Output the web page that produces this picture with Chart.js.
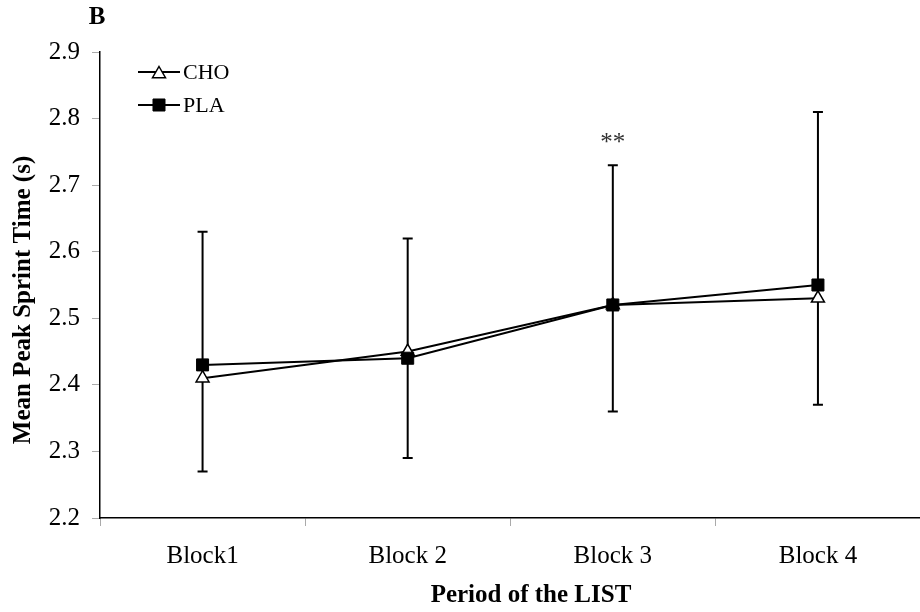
<!DOCTYPE html>
<html>
<head>
<meta charset="utf-8">
<script src="https://cdn.jsdelivr.net/npm/chart.js@4.4.0/dist/chart.umd.min.js"></script>
<style>
  body { margin: 0; background: #fff; }
  #wrap { width: 920px; height: 612px; overflow: hidden; }
</style>
</head>
<body>
<div id="wrap">
  <canvas id="sprintChart" width="930" height="612"></canvas>
</div>
<script>
const blocks = ['Block1', 'Block 2', 'Block 3', 'Block 4'];
const choValues = [2.41, 2.45, 2.52, 2.53];
const plaValues = [2.43, 2.44, 2.52, 2.55];
const errTop = [2.63, 2.62, 2.73, 2.81];
const errBottom = [2.27, 2.29, 2.36, 2.37];
const yTicks = [2.2, 2.3, 2.4, 2.5, 2.6, 2.7, 2.8, 2.9];
const starBlock = 2;   // index of the Block 3 category
const starValue = 2.75;

const serif = '"Liberation Serif", "Times New Roman", serif';

// error bars, drawn under the lines and markers
const errorBars = {
    id: 'errorBars',
    beforeDatasetsDraw(chart) {
        const ctx = chart.ctx;
        const x = chart.scales.x;
        const y = chart.scales.y;
        ctx.save();
        ctx.strokeStyle = '#000';
        ctx.lineWidth = 2;
        blocks.forEach((b, i) => {
            const px = x.getPixelForValue(i);
            const top = y.getPixelForValue(errTop[i]);
            const bot = y.getPixelForValue(errBottom[i]);
            ctx.beginPath();
            ctx.moveTo(px, top);
            ctx.lineTo(px, bot);
            ctx.moveTo(px - 5, top);
            ctx.lineTo(px + 5, top);
            ctx.moveTo(px - 5, bot);
            ctx.lineTo(px + 5, bot);
            ctx.stroke();
        });
        ctx.restore();
    }
};

// panel letter, asterisks, axis titles and the legend
const extras = {
    id: 'extras',
    afterDraw(chart) {
        const ctx = chart.ctx;
        const x = chart.scales.x;
        const y = chart.scales.y;
        ctx.save();
        ctx.fillStyle = '#000';

        ctx.font = 'bold 25px ' + serif;
        ctx.textAlign = 'center';
        ctx.textBaseline = 'middle';
        ctx.fillText('B', 97, 18);
        ctx.fillText('Period of the LIST', 531, 596);

        ctx.save();
        ctx.translate(24, 300);
        ctx.rotate(-Math.PI / 2);
        ctx.fillText('Mean Peak Sprint Time (s)', 0, 0);
        ctx.restore();

        ctx.font = '25px ' + serif;
        ctx.fillStyle = '#333';
        ctx.textBaseline = 'alphabetic';
        ctx.fillText('**', x.getPixelForValue(starBlock), y.getPixelForValue(starValue) - 2);

        // legend
        ctx.font = '22px ' + serif;
        ctx.textAlign = 'left';
        ctx.textBaseline = 'middle';
        const rows = [[0, 72], [1, 105]];
        rows.forEach(([di, ly]) => {
            const ds = chart.data.datasets[di];
            ctx.strokeStyle = '#000';
            ctx.lineWidth = 2;
            ctx.beginPath();
            ctx.moveTo(138, ly);
            ctx.lineTo(180, ly);
            ctx.stroke();
            ctx.fillStyle = ds.pointBackgroundColor;
            ctx.lineWidth = ds.pointBorderWidth;
            ctx.beginPath();
            if (ds.pointStyle === 'triangle') {
                const r = ds.pointRadius, cy = ly + 2;
                ctx.moveTo(159, cy - r);
                ctx.lineTo(159 + r * 0.866, cy + r / 2);
                ctx.lineTo(159 - r * 0.866, cy + r / 2);
                ctx.closePath();
            } else {
                const s = Math.SQRT1_2 * ds.pointRadius;
                ctx.rect(159 - s, ly - s, 2 * s, 2 * s);
            }
            ctx.fill();
            ctx.stroke();
            ctx.fillStyle = '#000';
            ctx.fillText(ds.label, 183, ly + 1);
        });
        ctx.restore();
    }
};

const ctx = document.getElementById('sprintChart').getContext('2d');
new Chart(ctx, {
    type: 'line',
    data: {
        labels: blocks,
        datasets: [{
            label: 'CHO',
            data: choValues,
            borderColor: '#000',
            borderWidth: 2,
            pointStyle: 'triangle',
            pointRadius: 7.5,
            pointBorderWidth: 1.5,
            pointBackgroundColor: '#fff',
            pointBorderColor: '#000',
            order: 1
        }, {
            label: 'PLA',
            data: plaValues,
            borderColor: '#000',
            borderWidth: 2,
            pointStyle: 'rect',
            pointRadius: 8.5,
            pointBorderWidth: 1,
            pointBackgroundColor: '#000',
            pointBorderColor: '#000',
            order: 0
        }]
    },
    options: {
        responsive: false,
        animation: false,
        events: [],
        layout: { padding: { top: 52, left: 0, right: 0, bottom: 0 } },
        plugins: {
            legend: { display: false },
            tooltip: { enabled: false }
        },
        scales: {
            x: {
                type: 'category',
                offset: true,
                afterFit: s => { s.height = 94; },
                grid: {
                    offset: true,
                    drawOnChartArea: false,
                    tickLength: 8,
                    color: '#aaa'
                },
                border: { color: '#000', width: 1.5 },
                ticks: {
                    color: '#000',
                    padding: 15,
                    font: { family: serif, size: 25 }
                }
            },
            y: {
                min: 2.2,
                max: 2.9,
                afterFit: s => { s.width = 100; },
                afterBuildTicks: s => { s.ticks = yTicks.map(v => ({ value: v })); },
                grid: {
                    drawOnChartArea: false,
                    tickLength: 8,
                    color: '#aaa'
                },
                border: { color: '#000', width: 1.5 },
                ticks: {
                    color: '#000',
                    padding: 12,
                    font: { family: serif, size: 25 },
                    callback: v => v.toFixed(1)
                }
            }
        }
    },
    plugins: [errorBars, extras]
});
</script>
</body>
</html>
